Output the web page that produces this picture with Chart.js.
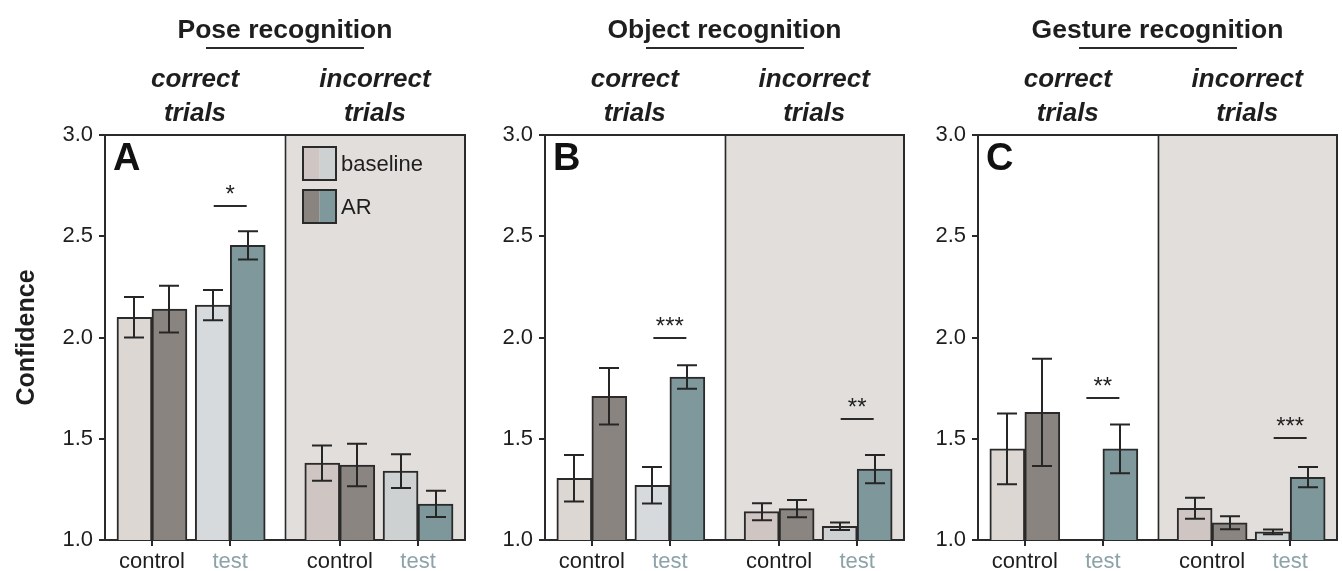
<!DOCTYPE html>
<html>
<head>
<meta charset="utf-8">
<script src="https://cdn.jsdelivr.net/npm/chart.js@4.4.1/dist/chart.umd.min.js"></script>
<style>
  html, body { margin: 0; padding: 0; background: #fff; }
  #fig { position: relative; width: 1342px; height: 571px; overflow: hidden;
         font-family: 'Liberation Sans', Arial, Helvetica, sans-serif; color: #1e1e1e; }
  #fig canvas { position: absolute; top: 0; }
  .title { position: absolute; top: 16px; font-weight: bold; font-size: 26.5px; line-height: 26px;
           white-space: nowrap; transform: translateX(-50%); }
  .rule { position: absolute; top: 47px; height: 2px; background: #2a2a2a; transform: translateX(-50%); }
  .sub { position: absolute; top: 61px; font-weight: bold; font-style: italic; font-size: 26px;
         line-height: 34px; text-align: center; white-space: nowrap; transform: translateX(-50%); }
</style>
</head>
<body>
<div id="fig"></div>
<script>
// ---- data -------------------------------------------------------------
const TITLES = ['Pose recognition', 'Object recognition', 'Gesture recognition'];
const LETTERS = ['A', 'B', 'C'];
const CATEGORIES = ['control', 'test', 'control', 'test'];
const HALVES = [['correct', 'trials'], ['incorrect', 'trials']];
const SERIES = ['baseline', 'AR'];
const Y_LABEL = 'Confidence';

const POSE_BASELINE     = [2.10, 2.16, 1.38, 1.34];
const POSE_BASELINE_ERR = [0.10, 0.075, 0.087, 0.083];
const POSE_AR           = [2.14, 2.455, 1.37, 1.178];
const POSE_AR_ERR       = [0.115, 0.07, 0.105, 0.065];
const POSE_SIG          = [{ group: 1, y: 2.65, label: '*' }];

const OBJECT_BASELINE     = [1.305, 1.27, 1.14, 1.068];
const OBJECT_BASELINE_ERR = [0.115, 0.09, 0.042, 0.019];
const OBJECT_AR           = [1.71, 1.805, 1.155, 1.35];
const OBJECT_AR_ERR       = [0.14, 0.058, 0.043, 0.07];
const OBJECT_SIG          = [{ group: 1, y: 2.0, label: '***' }, { group: 3, y: 1.60, label: '**' }];

const GESTURE_BASELINE     = [1.45, 1.0, 1.157, 1.04];
const GESTURE_BASELINE_ERR = [0.175, 0, 0.052, 0.012];
const GESTURE_AR           = [1.63, 1.45, 1.085, 1.31];
const GESTURE_AR_ERR       = [0.265, 0.12, 0.032, 0.05];
const GESTURE_SIG          = [{ group: 1, y: 1.70, label: '**' }, { group: 3, y: 1.505, label: '***' }];

// ---- layout & style ---------------------------------------------------
const FONT = "'Liberation Sans', Arial, Helvetica, sans-serif";
const INK = '#1e1e1e';
const LINE = '#2a2a2a';
const TEST_LABEL = '#8da3a8';
const SHADE = '#e2dedb';
const BASE_COLORS = ['#ddd7d4', '#d6dadd', '#cfc5c3', '#cdd1d2'];
const AR_COLORS   = ['#8a8481', '#7f989c', '#8b8582', '#7e979b'];
const GROUP_POS = [0.6, 1.6, 3.0, 4.0];   // x position of each category on the panel axis
const X_MAX = 4.6;
const DIVIDER = 2.3;                        // boundary between correct / incorrect trials

// canvas left, canvas width, plot left (px), plot right (px)
const BOXES = [
  [0, 475, 105, 465],
  [475, 434, 545, 904],
  [909, 433, 978, 1337]
];
const PLOT_TOP = 135, PLOT_BOTTOM = 540, FIG_H = 571;

const fig = document.getElementById('fig');

function addText(cls, text, left) {
  const d = document.createElement('div');
  d.className = cls;
  d.style.left = left + 'px';
  d.innerHTML = text;
  fig.appendChild(d);
  return d;
}

// ---- plugins ------------------------------------------------------------
const shadePlugin = {
  id: 'shade',
  beforeDraw(chart) {
    const { ctx, chartArea: a, scales: { x } } = chart;
    const dx = x.getPixelForValue(DIVIDER);
    ctx.save();
    ctx.fillStyle = SHADE;
    ctx.fillRect(dx, a.top, a.right - dx, a.bottom - a.top);
    ctx.restore();
  },
  beforeDatasetsDraw(chart) {
    const { ctx, chartArea: a, scales: { x } } = chart;
    const dx = Math.round(x.getPixelForValue(DIVIDER)) + 0.5;
    ctx.save();
    ctx.strokeStyle = LINE;
    ctx.lineWidth = 1.6;
    ctx.beginPath();
    ctx.moveTo(dx, a.top);
    ctx.lineTo(dx, a.bottom);
    ctx.stroke();
    ctx.restore();
  }
};

const framePlugin = {
  id: 'frame',
  afterDatasetsDraw(chart) {
    const { ctx, chartArea: a } = chart;
    ctx.save();
    ctx.strokeStyle = LINE;
    ctx.lineWidth = 2;
    ctx.beginPath();
    ctx.moveTo(a.left - 1, a.top);
    ctx.lineTo(a.right, a.top);
    ctx.lineTo(a.right, a.bottom + 1);
    ctx.stroke();
    ctx.restore();
  }
};

const errorBarPlugin = {
  id: 'errorBars',
  afterDatasetsDraw(chart) {
    const { ctx, scales: { y } } = chart;
    ctx.save();
    ctx.strokeStyle = '#262626';
    ctx.lineWidth = 2;
    chart.data.datasets.forEach((ds, di) => {
      const meta = chart.getDatasetMeta(di);
      meta.data.forEach((bar, i) => {
        const v = ds.data[i].y, e = ds.errors[i];
        if (!e) return;
        const yt = y.getPixelForValue(v + e), yb = y.getPixelForValue(v - e);
        const cx = Math.round(bar.x);
        ctx.beginPath();
        ctx.moveTo(cx, yt); ctx.lineTo(cx, yb);
        ctx.moveTo(cx - 10, yt); ctx.lineTo(cx + 10, yt);
        ctx.moveTo(cx - 10, yb); ctx.lineTo(cx + 10, yb);
        ctx.stroke();
      });
    });
    ctx.restore();
  }
};

const markPlugin = {
  id: 'marks',
  afterDraw(chart, args, opts) {
    const { ctx, chartArea: a, scales: { x, y } } = chart;
    ctx.save();
    // panel letter
    ctx.fillStyle = '#111';
    ctx.font = 'bold 38px ' + FONT;
    ctx.textAlign = 'left';
    ctx.textBaseline = 'alphabetic';
    ctx.fillText(opts.letter, a.left + 8, a.top + 35);
    // significance bars
    ctx.strokeStyle = LINE;
    ctx.lineWidth = 2;
    ctx.textAlign = 'center';
    ctx.font = '24px ' + FONT;
    ctx.fillStyle = INK;
    (opts.sig || []).forEach(s => {
      const cx = x.getPixelForValue(GROUP_POS[s.group]);
      const py = Math.round(y.getPixelForValue(s.y));
      ctx.beginPath();
      ctx.moveTo(cx - 16.5, py); ctx.lineTo(cx + 16.5, py);
      ctx.stroke();
      ctx.fillText(s.label, cx, py - 4);
    });
    // legend
    if (opts.legend) {
      const dx = x.getPixelForValue(DIVIDER);
      const bx = dx + 18, size = 33;
      const rows = [
        [SERIES[0], BASE_COLORS[2], BASE_COLORS[3], a.top + 12],
        [SERIES[1], AR_COLORS[0], AR_COLORS[1], a.top + 55]
      ];
      rows.forEach(([label, c1, c2, by]) => {
        ctx.fillStyle = c1;
        ctx.fillRect(bx, by, size / 2, size);
        ctx.fillStyle = c2;
        ctx.fillRect(bx + size / 2, by, size / 2, size);
        ctx.strokeStyle = LINE;
        ctx.lineWidth = 2;
        ctx.strokeRect(bx, by, size, size);
        ctx.fillStyle = INK;
        ctx.font = '22px ' + FONT;
        ctx.textAlign = 'left';
        ctx.textBaseline = 'middle';
        ctx.fillText(label, bx + size + 5, by + size / 2 + 1);
      });
    }
    ctx.restore();
  }
};

// ---- panels -------------------------------------------------------------
function makePanel(i, baseline, baselineErr, ar, arErr, sig) {
  const [cl, cw, pl, pr] = BOXES[i];
  const canvas = document.createElement('canvas');
  canvas.width = cw; canvas.height = FIG_H;
  canvas.style.left = cl + 'px';
  canvas.style.width = cw + 'px';
  canvas.style.height = FIG_H + 'px';
  fig.appendChild(canvas);

  // headings
  const plotW = pr - pl;
  const divPx = pl + plotW * DIVIDER / X_MAX;
  addText('title', TITLES[i], (pl + pr) / 2);
  const rule = addText('rule', '', (pl + pr) / 2);
  rule.style.width = '158px';
  addText('sub', HALVES[0].join('<br>'), (pl + divPx) / 2);
  addText('sub', HALVES[1].join('<br>'), (divPx + pr) / 2);

  const grid = { display: true, drawOnChartArea: false, drawTicks: true, tickLength: 6,
                 color: LINE, lineWidth: 2, offset: false };
  const border = { display: true, color: LINE, width: 2 };

  return new Chart(canvas, {
    type: 'bar',
    data: {
      datasets: [
        { label: SERIES[0], data: baseline.map((v, k) => ({ x: GROUP_POS[k], y: v })), errors: baselineErr,
          backgroundColor: BASE_COLORS, borderColor: LINE, borderWidth: 2 },
        { label: SERIES[1], data: ar.map((v, k) => ({ x: GROUP_POS[k], y: v })), errors: arErr,
          backgroundColor: AR_COLORS, borderColor: LINE, borderWidth: 2 }
      ]
    },
    options: {
      responsive: false,
      animation: false,
      devicePixelRatio: 1,
      layout: { padding: { left: 0, right: cw - (pr - cl), top: PLOT_TOP, bottom: 0 } },
      datasets: { bar: { barThickness: 35, grouped: true } },
      plugins: {
        legend: { display: false },
        tooltip: { enabled: false },
        marks: { letter: LETTERS[i], sig: sig, legend: i === 0 }
      },
      scales: {
        x: {
          type: 'linear', min: 0, max: X_MAX, offset: false,
          afterBuildTicks: s => { s.ticks = GROUP_POS.map(v => ({ value: v })); },
          afterFit: s => { s.height = FIG_H - PLOT_BOTTOM; },
          ticks: {
            autoSkip: false, maxRotation: 0, minRotation: 0, padding: 3,
            callback: (v, k) => CATEGORIES[k],
            color: c => CATEGORIES[c.index] === 'test' ? TEST_LABEL : INK,
            font: { family: FONT, size: 22 }
          },
          grid: grid, border: border
        },
        y: {
          min: 1, max: 3,
          afterFit: s => { s.width = pl - cl; },
          ticks: { stepSize: 0.5, callback: v => Number(v).toFixed(1), color: INK,
                   font: { family: FONT, size: 22 }, padding: 6 },
          grid: grid, border: border,
          title: { display: i === 0, text: Y_LABEL, color: INK,
                   font: { family: FONT, size: 25, weight: 'bold' }, padding: { top: 12, bottom: 0 } }
        }
      }
    },
    plugins: [shadePlugin, framePlugin, errorBarPlugin, markPlugin]
  });
}

makePanel(0, POSE_BASELINE, POSE_BASELINE_ERR, POSE_AR, POSE_AR_ERR, POSE_SIG);
makePanel(1, OBJECT_BASELINE, OBJECT_BASELINE_ERR, OBJECT_AR, OBJECT_AR_ERR, OBJECT_SIG);
makePanel(2, GESTURE_BASELINE, GESTURE_BASELINE_ERR, GESTURE_AR, GESTURE_AR_ERR, GESTURE_SIG);
</script>
</body>
</html>
